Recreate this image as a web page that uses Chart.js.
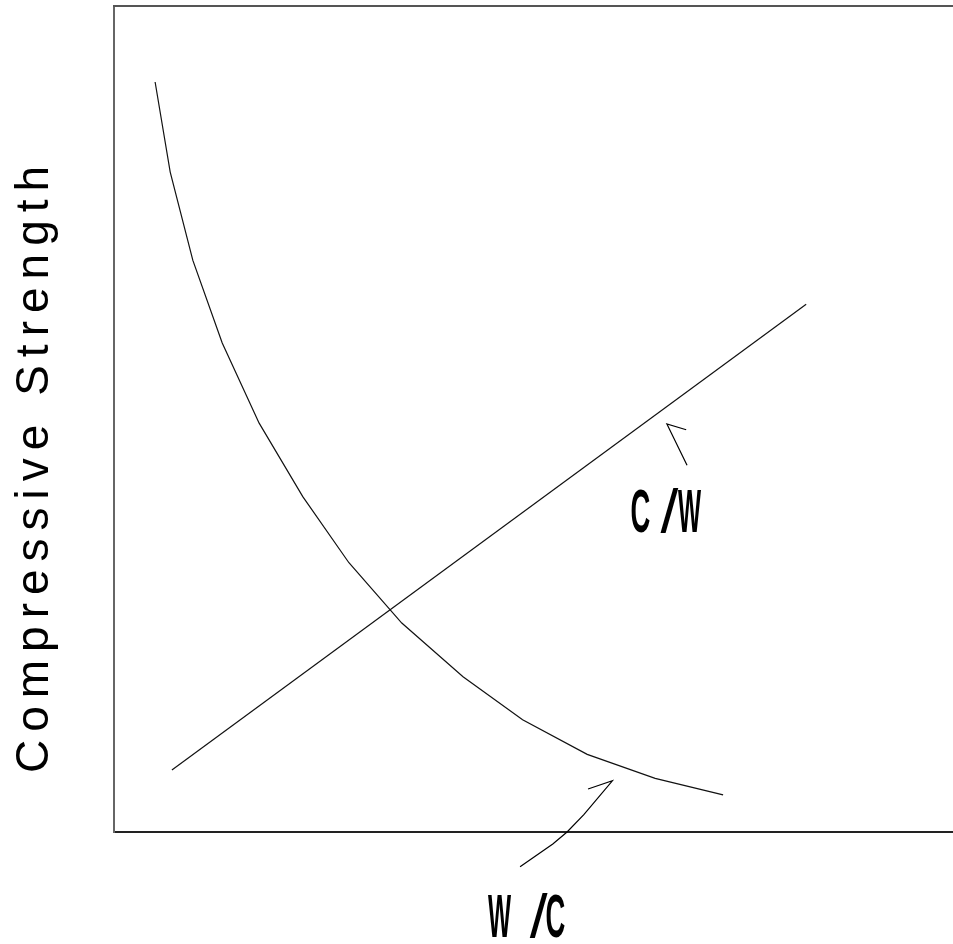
<!DOCTYPE html>
<html>
<head>
<meta charset="utf-8">
<script src="https://cdn.jsdelivr.net/npm/chart.js@4.4.1/dist/chart.umd.min.js"></script>
<style>
  html, body { margin: 0; padding: 0; background: #ffffff; }
  #wrap { width: 953px; height: 944px; }
</style>
</head>
<body>
<div id="wrap"><canvas id="c" width="953" height="944"></canvas></div>
<script>
// Strength vs water/cement ratio (curve) and cement/water ratio (straight line)
const wcX = [4.9, 6.7, 9.4, 12.9, 17.3, 22.5, 28.0, 34.3, 41.6, 48.7, 56.4, 64.5, 72.6];
const wcY = [90.8, 79.9, 69.2, 59.2, 49.5, 40.6, 32.6, 25.3, 18.8, 13.6, 9.4, 6.5, 4.5];
const cwX = [6.9, 82.5];
const cwY = [7.5, 63.9];
const seriesNames = ['W /C', 'C /W'];
const yTitle = 'Compressive Strength';

const toPoints = (xs, ys) => xs.map((x, i) => ({ x, y: ys[i] }));

// Callout arrows and labels, placed in data units; glyph = [x, char, x-scale, weight]
const callouts = [
  {
    label: seriesNames[0],
    tip: [59.4, 6.2],
    head: [56.5, 5.2],
    shaft: [[56.0, 2.1], [54.0, 0.0], [52.3, -1.45], [48.4, -4.2]],
    glyphs: [[45.95, 'W', 0.4, 'bold'], [50.6, '/', 1.05, 'normal'], [52.6, 'C', 0.45, 'bold']],
    baseline: -12.7
  },
  {
    label: seriesNames[1],
    tip: [65.9, 49.4],
    head: [68.2, 48.7],
    shaft: [[68.3, 44.4]],
    glyphs: [[62.75, 'C', 0.45, 'bold'], [66.2, '/', 1.05, 'normal'], [68.6, 'W', 0.4, 'bold']],
    baseline: 36.3
  }
];

const decorations = {
  id: 'decorations',
  afterDraw(chart) {
    const { ctx, chartArea, scales } = chart;
    const px = v => scales.x.getPixelForValue(v);
    const py = v => scales.y.getPixelForValue(v);
    ctx.save();

    // top frame edge
    ctx.strokeStyle = '#555555';
    ctx.lineWidth = 2;
    ctx.beginPath();
    ctx.moveTo(chartArea.left - 1, chartArea.top);
    ctx.lineTo(chartArea.right, chartArea.top);
    ctx.stroke();

    // rotated, letter-spaced axis title
    ctx.save();
    ctx.translate(48, 770);
    ctx.rotate(-Math.PI / 2);
    ctx.fillStyle = '#000000';
    ctx.font = '46px "Liberation Sans", Arial, sans-serif';
    ctx.textBaseline = 'alphabetic';
    ctx.textAlign = 'left';
    let pos = -3;
    const spacing = 8;
    for (const ch of yTitle) {
      ctx.fillText(ch, pos, 0);
      pos += ctx.measureText(ch).width + spacing;
    }
    ctx.restore();

    // callouts
    ctx.strokeStyle = '#000000';
    ctx.lineWidth = 1.2;
    for (const c of callouts) {
      ctx.beginPath();
      ctx.moveTo(px(c.head[0]), py(c.head[1]));
      ctx.lineTo(px(c.tip[0]), py(c.tip[1]));
      for (const p of c.shaft) ctx.lineTo(px(p[0]), py(p[1]));
      ctx.stroke();

      ctx.fillStyle = '#000000';
      ctx.textAlign = 'center';
      ctx.textBaseline = 'alphabetic';
      for (const [gx, ch, sx, weight] of c.glyphs) {
        ctx.save();
        ctx.font = weight + ' 61px "Liberation Sans", Arial, sans-serif';
        ctx.translate(px(gx), py(c.baseline));
        ctx.scale(sx, 1);
        ctx.fillText(ch, 0, 0);
        ctx.restore();
      }
    }
    ctx.restore();
  }
};

new Chart(document.getElementById('c'), {
  type: 'scatter',
  data: {
    datasets: [
      {
        label: seriesNames[0],
        data: toPoints(wcX, wcY),
        showLine: true,
        borderColor: '#111111',
        borderWidth: 1.2,
        pointRadius: 0,
        tension: 0,
        fill: false
      },
      {
        label: seriesNames[1],
        data: toPoints(cwX, cwY),
        showLine: true,
        borderColor: '#111111',
        borderWidth: 1.2,
        pointRadius: 0,
        tension: 0,
        fill: false
      }
    ]
  },
  options: {
    responsive: false,
    animation: false,
    events: [],
    layout: { padding: { left: 114, top: 6, right: 0, bottom: 112 } },
    plugins: {
      legend: { display: false },
      tooltip: { enabled: false },
      title: { display: false }
    },
    scales: {
      x: {
        type: 'linear',
        min: 0,
        max: 100,
        ticks: { display: false },
        grid: { display: false, drawTicks: false },
        border: { display: true, color: '#222222', width: 2 }
      },
      y: {
        type: 'linear',
        min: 0,
        max: 100,
        ticks: { display: false },
        grid: { display: false, drawTicks: false },
        border: { display: true, color: '#666666', width: 2 }
      }
    }
  },
  plugins: [decorations]
});
</script>
</body>
</html>
